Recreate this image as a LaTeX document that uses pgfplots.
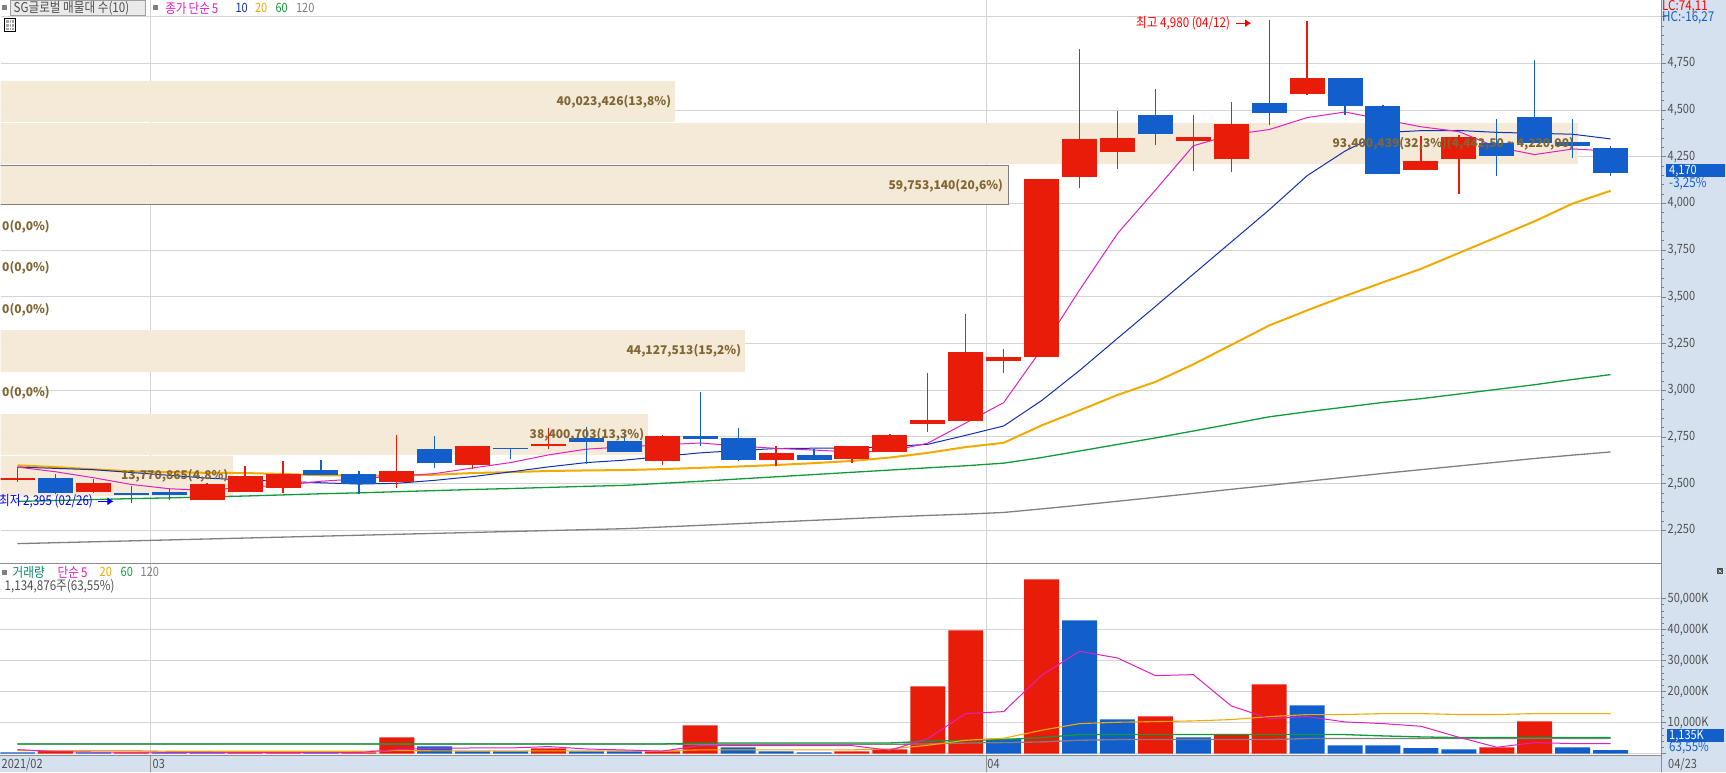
\documentclass[border=0pt]{standalone}
\usepackage{pgfplots}
\usepackage{pgfplotstable}
\usepackage{fontspec}
\pgfplotsset{compat=1.18}
\usetikzlibrary{arrows.meta}
\setmainfont{Noto Sans CJK KR}[FakeStretch=0.86]
\newfontfamily\bfam{Noto Sans CJK KR}
\definecolor{panel}{HTML}{D6E1EF}
\definecolor{gridc}{HTML}{D4D4D4}
\definecolor{beige}{HTML}{F5E9D7}
\definecolor{brownt}{HTML}{806633}
\definecolor{cred}{HTML}{E91C0A}
\definecolor{cblue}{HTML}{125ECB}
\definecolor{cmag}{HTML}{E020C0}
\definecolor{cnavy}{HTML}{1030B0}
\definecolor{corange}{HTML}{F0AA00}
\definecolor{cgreen}{HTML}{109A3A}
\definecolor{cgrey}{HTML}{808080}
\definecolor{cdiv}{HTML}{8C8C8C}
\definecolor{labc}{HTML}{505050}
\newcommand\PX[2]{({#1*1pt},{(772-#2)*1pt})}
\newcommand\lf{\fontsize{12.8}{12.8}\selectfont}
\newcommand\lk{\fontsize{13.5}{13.5}\selectfont}
\newcommand\bt{\bfam\fontsize{12}{12}\selectfont\bfseries\color{brownt}}

% candles: x bodylow bodyhigh high low
\pgfplotstableread{
x lo hi h l
0 2520 2530 2589 2509
2 2453 2502 2527 2450
5 2411 2496 2503 2411
6 2453 2539 2593 2453
7 2475 2550 2619 2448
10 2507 2566 2759 2475
12 2598 2700 2700 2577
14 2700 2710 2800 2684
17 2619 2753 2759 2598
20 2625 2662 2700 2593
22 2630 2700 2700 2609
23 2668 2759 2764 2668
24 2817 2839 3095 2775
25 2833 3203 3407 2833
26 3156 3178 3219 3092
27 3178 4129 4129 3178
28 4140 4343 4825 4081
29 4274 4349 4498 4183
31 4333 4354 4472 4172
32 4236 4424 4541 4167
34 4584 4670 4975 4579
37 4177 4225 4359 4177
38 4241 4354 4365 4049
}\redc
\pgfplotstableread{
x lo hi h l
1 2448 2528 2550 2443
3 2437 2448 2486 2395
4 2437 2453 2473 2411
8 2545 2571 2625 2545
9 2498 2550 2566 2446
11 2609 2684 2753 2582
13 2684 2689 2689 2630
15 2723 2742 2801 2603
16 2668 2726 2760 2668
18 2737 2753 2989 2700
19 2625 2742 2796 2619
21 2625 2651 2684 2625
30 4370 4472 4611 4311
33 4482 4536 4980 4418
35 4520 4670 4670 4472
36 4156 4520 4525 4156
39 4252 4322 4450 4145
40 4322 4461 4771 4322
41 4306 4327 4450 4242
42 4166 4295 4306 4150
}\bluec
% price moving averages
\pgfplotstableread{
x m5 m10 m20 m60 m120
0 2589 2589 2598 2405 2179
1 2564 2582 2589 2410 2184
2 2532 2575 2577 2415 2189
3 2496 2560 2566 2420 2194
4 2473 2545 2562 2424 2199
5 2464 2530 2558 2429 2204
6 2482 2520 2557 2434 2209
7 2492 2512 2552 2440 2214
8 2513 2505 2545 2446 2219
9 2526 2498 2543 2451 2224
10 2540 2502 2543 2457 2229
11 2554 2518 2548 2463 2234
12 2584 2538 2557 2469 2239
13 2613 2563 2562 2474 2244
14 2654 2590 2568 2480 2249
15 2685 2613 2571 2486 2254
16 2697 2626 2573 2491 2259
17 2708 2646 2578 2502 2268
18 2718 2665 2585 2513 2277
19 2702 2678 2592 2525 2286
20 2689 2688 2600 2537 2295
21 2680 2690 2610 2549 2304
22 2670 2690 2622 2561 2313
23 2674 2698 2640 2573 2322
24 2717 2711 2665 2585 2330
25 2825 2759 2696 2596 2337
26 2934 2809 2719 2610 2346
27 3220 2945 2812 2640 2365
28 3537 3106 2892 2675 2385
29 3839 3278 2975 2710 2406
30 4072 3449 3045 2745 2427
31 4309 3622 3139 2782 2448
32 4368 3794 3243 2820 2470
33 4396 3966 3347 2858 2491
34 4460 4149 3428 2885 2513
35 4490 4281 3505 2910 2534
36 4450 4380 3578 2935 2555
37 4411 4390 3650 2955 2575
38 4385 4391 3735 2980 2595
39 4302 4381 3820 3005 2615
40 4262 4376 3905 3030 2635
41 4292 4371 4000 3058 2653
42 4281 4346 4068 3084 2670
}\mas
% volume
\pgfplotstableread{
x v
1 840
3 420
6 400
7 400
9 420
10 5258
14 1710
17 742
18 9137
22 742
23 1387
24 21715
25 39775
27 56222
30 12040
32 6127
33 22360
39 2042
40 10427
}\vred
\pgfplotstableread{
x v
0 420
2 420
4 400
5 400
8 400
11 2355
12 742
13 742
15 742
16 742
19 2032
20 742
21 420
26 4840
28 43000
29 11072
31 5267
34 15587
35 2687
36 2687
37 1720
38 1397
41 2042
42 1135
}\vblue
\pgfplotstableread{
x m5 m20 m60 m120
0 1290 960 3097 3097
1 645 960 3097 3097
2 500 960 3097 3097
3 450 960 3097 3097
4 420 750 3097 3097
5 350 750 3097 3097
6 340 750 3097 3097
7 340 750 3097 3097
8 340 750 3097 3097
9 350 750 3097 3097
10 1290 960 3097 3097
11 1750 890 3097 3097
12 1806 890 3097 3097
13 1806 890 3097 3097
14 2258 890 3097 3097
15 1484 890 3097 3097
16 1161 890 3097 3097
17 800 890 3097 3097
18 2580 1200 3420 3000
19 2580 1200 3420 3000
20 2580 1200 3420 3000
21 2580 1200 3420 3000
22 2560 1200 3420 3000
23 1065 1500 3420 3000
24 4837 2677 3968 3117
25 12900 4290 4300 3400
26 13545 4945 4516 3547
27 25262 7525 5160 3762
28 33002 9675 6127 4300
29 30852 10105 6127 4515
30 25155 10320 6127 4515
31 25477 10535 6127 4515
32 15372 10965 6127 4515
33 11287 11932 6127 4515
34 11932 12577 6127 4837
35 10212 12600 6127 4837
36 9675 12900 5700 4837
37 8815 12900 5375 4837
38 5267 12600 5160 4837
39 2042 12600 5160 4837
40 3547 12900 5160 4837
41 3225 12900 5160 4837
42 3225 12900 5160 4837
}\vmas

\pgfplotsset{
  base/.style={
    scale only axis, xmin=-0.448, xmax=43.33,
    axis line style={draw=none},
    scaled y ticks=false,
    xtick={3.505,25.54}, xticklabels={}, xmajorgrids, ymajorgrids,
    major grid style={gridc,line width=1pt},
    xtick pos=bottom, ytick pos=right, tick align=outside,
    x tick style={draw=none},
    y tick style={cgrey,line width=0.8pt},
    major tick length=5pt, minor tick length=2.5pt,
    yticklabel style={font=\lf,text=labc,inner sep=1.5pt},
  },
  wick/.style={draw=none,mark=none,forget plot,
    error bars/.cd,y dir=plus,y explicit,error mark=none,
    error bar style={#1,line width=1.3pt}},
  body/.style={draw=none,mark=none,forget plot,
    error bars/.cd,y dir=plus,y explicit,error mark=none,
    error bar style={#1,line width=35pt}},
}
\begin{document}
\begin{tikzpicture}
\fill[panel] (0pt,0pt) rectangle (1726pt,772pt);
\fill[white] \PX{0}{0} rectangle \PX{1661}{755.3};
\begin{axis}[base,at={(0pt,208.7pt)},anchor=south west,
  width=1661pt,height=563.3pt,
  ymin=2072,ymax=5087,
  ytick={2250,2500,2750,3000,3250,3500,3750,4000,4250,4500,4750,5000},
  yticklabels={{2,250},{2,500},{2,750},{3,000},{3,250},{3,500},{3,750},{4,000},{4,250},{4,500},{4,750},{}},
  minor y tick num=4,
]
\addplot[fill=beige,draw=none,forget plot] coordinates {(-1,4654)(17.34,4654)(17.34,4434)(-1,4434)} -- cycle;
\addplot[fill=beige,draw=none,forget plot] coordinates {(-1,4429)(41.14,4429)(41.14,4209)(-1,4209)} -- cycle;
\addplot[fill=beige,draw=cgrey,line width=0.8pt,forget plot] coordinates {(-1,4204)(26.12,4204)(26.12,3995)(-1,3995)} -- cycle;
\addplot[fill=beige,draw=none,forget plot] coordinates {(-1,3321)(19.19,3321)(19.19,3096)(-1,3096)} -- cycle;
\addplot[fill=beige,draw=none,forget plot] coordinates {(-1,2872)(16.63,2872)(16.63,2652)(-1,2652)} -- cycle;
\addplot[fill=beige,draw=none,forget plot] coordinates {(-1,2648)(5.67,2648)(5.67,2432)(-1,2432)} -- cycle;
% moving averages
\addplot[cgrey,line width=1.3pt] table[x=x,y=m120]{\mas};
\addplot[cgreen,line width=1.3pt] table[x=x,y=m60]{\mas};
\addplot[corange,line width=2pt] table[x=x,y=m20]{\mas};
\addplot[cnavy,line width=1pt] table[x=x,y=m10]{\mas};
\addplot[cmag,line width=1pt] table[x=x,y=m5]{\mas};
% candles
\addplot[wick=cred] table[x=x,y=l,y error plus expr=\thisrow{h}-\thisrow{l}]{\redc};
\addplot[wick=cblue] table[x=x,y=l,y error plus expr=\thisrow{h}-\thisrow{l}]{\bluec};
\addplot[body=cred] table[x=x,y=lo,y error plus expr=\thisrow{hi}-\thisrow{lo}]{\redc};
\addplot[body=cblue] table[x=x,y=lo,y error plus expr=\thisrow{hi}-\thisrow{lo}]{\bluec};
\end{axis}
\begin{axis}[base,at={(0pt,16.7pt)},anchor=south west,
  width=1661pt,height=192pt,
  ymin=-645,ymax=61290,
  ytick={0,10000,20000,30000,40000,50000},
  yticklabels={{},{10,000K},{20,000K},{30,000K},{40,000K},{50,000K}},
  minor y tick num=4,
]
\addplot[ybar,bar width=35pt,fill=cred,draw=none] table[x=x,y=v]{\vred};
\addplot[ybar,bar width=35pt,fill=cblue,draw=none] table[x=x,y=v]{\vblue};
\addplot[cgrey,line width=1.3pt] table[x=x,y=m120]{\vmas};
\addplot[cgreen,line width=1.3pt] table[x=x,y=m60]{\vmas};
\addplot[corange,line width=1.1pt] table[x=x,y=m20]{\vmas};
\addplot[cmag,line width=1pt] table[x=x,y=m5]{\vmas};
\end{axis}
% frame lines
\draw[cdiv,line width=1pt] \PX{0}{563.3} -- \PX{1661}{563.3};
\draw[cdiv,line width=1pt] \PX{0}{755.3} -- \PX{1661}{755.3};
\draw[cdiv,line width=1pt] \PX{1661}{0} -- \PX{1661}{772};
\draw[gridc!70!black,line width=0.8pt] \PX{150}{755} -- \PX{150}{772};
\draw[gridc!70!black,line width=0.8pt] \PX{986}{755} -- \PX{986}{772};
% band labels
\node[anchor=east,inner sep=0] at \PX{671}{101} {\bt 40,023,426(13,8\%)};
\node[anchor=east,inner sep=0] at \PX{1003}{185} {\bt 59,753,140(20,6\%)};
\node[anchor=east,inner sep=0] at \PX{741}{350} {\bt 44,127,513(15,2\%)};
\node[anchor=east,inner sep=0] at \PX{644}{434} {\bt 38,400,703(13,3\%)};
\node[anchor=east,inner sep=0] at \PX{228}{475} {\bt 13,770,865(4,8\%)};
\node[anchor=east,inner sep=0] at \PX{1574}{143} {\bt 93,400,439(32,3\%)(4,442,50 \textasciitilde{} 4,220,00)};
\foreach \yy in {226,267.5,309.5,392}{
  \node[anchor=west,inner sep=0] at \PX{1.5}{\yy} {\bt 0(0,0\%)};
}
% high / low
\node[anchor=east,inner sep=0,text=red] at \PX{1230}{22.7} {\lk 최고 4,980 (04/12)};
\draw[red,line width=1pt,-{Latex[length=6pt,width=8pt]}] \PX{1236}{22.7} -- \PX{1251}{22.7};
\begin{scope}
\clip \PX{0}{490} rectangle \PX{200}{512};
\node[anchor=east,inner sep=0,text=blue] at \PX{92.6}{501} {\lk 최저 2,395 (02/26)};
\end{scope}
\draw[blue,line width=1pt,-{Latex[length=6pt,width=8pt]}] \PX{98}{501} -- \PX{113}{501};
% header
\fill[gridc!50!white] \PX{10}{0} rectangle \PX{145}{14.7};
\draw[gridc!75!black,line width=0.7pt] \PX{10}{0.3} rectangle \PX{145}{14.7};
\node[anchor=west,inner sep=0,text=labc] at \PX{13}{7.5} {\lk SG글로벌 매물대 수(10)};
\fill[cgrey] \PX{2}{5} rectangle \PX{7}{10};
\fill[cgrey] \PX{153}{5} rectangle \PX{158}{10};
\node[anchor=west,inner sep=0,text=cmag] at \PX{164.6}{7.5} {\lk 종가\hspace{2pt}단순\hspace{2pt}5};
\node[anchor=west,inner sep=0,text=cnavy] at \PX{235}{7.5} {\lf 10};
\node[anchor=west,inner sep=0,text=corange] at \PX{254.5}{7.5} {\lf 20};
\node[anchor=west,inner sep=0,text=cgreen] at \PX{275}{7.5} {\lf 60};
\node[anchor=west,inner sep=0,text=cgrey] at \PX{295.5}{7.5} {\lf 120};
% table icon
\draw[black,line width=1pt,fill=white] \PX{4.5}{18.5} rectangle \PX{15.5}{31.5};
\fill[cgrey!70!white] \PX{6}{20} rectangle \PX{14}{30};
\draw[white,line width=0.6pt] \PX{8.7}{20} -- \PX{8.7}{30} \PX{11.3}{20} -- \PX{11.3}{30} \PX{6}{23} -- \PX{14}{23} \PX{6}{27} -- \PX{14}{27};
% volume legend
\fill[cgrey] \PX{2}{570} rectangle \PX{7}{575};
\node[anchor=west,inner sep=0,text=teal!70!cgreen] at \PX{12}{572} {\lk 거래량};
\node[anchor=west,inner sep=0,text=cmag] at \PX{57}{572} {\lk 단순\hspace{2pt}5};
\node[anchor=west,inner sep=0,text=corange] at \PX{99}{572} {\lf 20};
\node[anchor=west,inner sep=0,text=cgreen] at \PX{120}{572} {\lf 60};
\node[anchor=west,inner sep=0,text=cgrey] at \PX{140}{572} {\lf 120};
\node[anchor=west,inner sep=0,text=labc] at \PX{4}{586} {\lk 1,134,876주(63,55\%)};
% x labels
\node[anchor=west,inner sep=0,text=labc] at \PX{1}{764} {\lf 2021/02};
\node[anchor=west,inner sep=0,text=labc] at \PX{152}{764} {\lf 03};
\node[anchor=west,inner sep=0,text=labc] at \PX{987}{764} {\lf 04};
\node[anchor=west,inner sep=0,text=labc] at \PX{1668}{764} {\lf 04/23};
% right panel
\node[anchor=west,inner sep=0,text=red] at \PX{1662}{6.5} {\lk LC:74,11};
\node[anchor=west,inner sep=0,text=cblue] at \PX{1662}{17.5} {\lk HC:-16,27};
\fill[cblue] \PX{1666}{164} rectangle \PX{1724.5}{177};
\node[anchor=west,inner sep=0,text=white] at \PX{1669}{170.5} {\lf 4,170};
\node[anchor=west,inner sep=0,text=cblue] at \PX{1669}{183} {\lk -3,25\%};
\fill[cblue] \PX{1666.5}{729} rectangle \PX{1724}{742};
\node[anchor=west,inner sep=0,text=white] at \PX{1669}{735.5} {\lf 1,135K};
\node[anchor=west,inner sep=0,text=cblue] at \PX{1669}{747.5} {\lk 63,55\%};
\fill[black!70] \PX{1717}{568} rectangle \PX{1723}{574};
\draw[white,line width=0.5pt] \PX{1718.5}{569.5} -- \PX{1721.5}{572.5} \PX{1721.5}{569.5} -- \PX{1718.5}{572.5};
\path[use as bounding box] (0pt,0pt) rectangle (1726pt,772pt);
\end{tikzpicture}
\end{document}
